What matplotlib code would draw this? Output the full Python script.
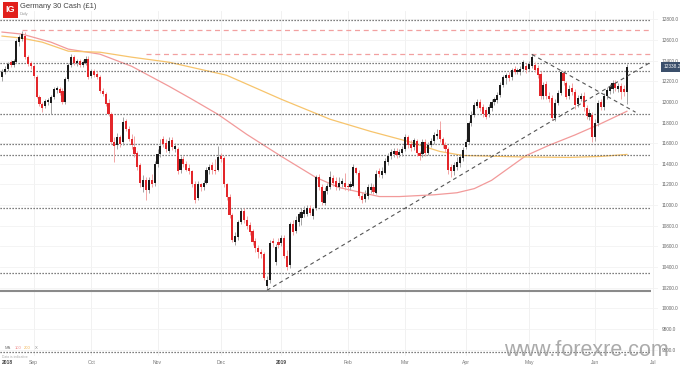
#!/usr/bin/env python3
"""Germany 30 Cash daily candles with 100/200 MAs, levels and trendlines -> out.png"""

import matplotlib
matplotlib.use('Agg')
import matplotlib.pyplot as plt
import numpy as np
import pandas as pd
from matplotlib.patches import Rectangle

plt.rcParams['font.family'] = ['Liberation Sans', 'DejaVu Sans']

START = '2018-08-17'

OPEN = [12239, 12287, 12316, 12384, 12355, 12384, 12578, 12608, 12637, 12433,
        12375, 12345, 12239, 12044, 11976, 11957, 11996, 11986, 12044, 12112,
        12122, 12103, 11996, 12219, 12355, 12433, 12375, 12394, 12355, 12375,
        12413, 12248, 12297, 12268, 12239, 12103, 12074, 11986, 11879, 11608,
        11578, 11656, 11608, 11811, 11734, 11637, 11559, 11501, 11384, 11171,
        11248, 11151, 11248, 11219, 11394, 11491, 11637, 11598, 11520, 11627,
        11540, 11540, 11345, 11442, 11394, 11355, 11326, 11209, 11073, 11200,
        11180, 11219, 11336, 11384, 11345, 11345, 11472, 11452, 11200, 11083,
        10908, 10646, 10695, 10840, 10947, 10860, 10811, 10753, 10656, 10588,
        10549, 10530, 10219, 10278, 10656, 10452, 10646, 10637, 10685, 10510,
        10423, 10821, 10753, 10840, 10879, 10918, 10918, 10976, 10899, 10976,
        11268, 11180, 11025, 11141, 11180, 11258, 11229, 11180, 11200, 11219,
        11190, 11171, 11190, 11355, 11316, 11093, 11064, 11093, 11151, 11180,
        11122, 11326, 11287, 11316, 11413, 11472, 11491, 11520, 11481, 11501,
        11540, 11656, 11588, 11559, 11617, 11501, 11491, 11608, 11501, 11578,
        11617, 11666, 11724, 11637, 11578, 11540, 11365, 11326, 11374, 11404,
        11452, 11559, 11608, 11792, 11870, 11957, 11996, 11947, 11918, 11879,
        11938, 11996, 12015, 12064, 12161, 12229, 12258, 12239, 12316, 12287,
        12287, 12316, 12345, 12316, 12345, 12355, 12326, 12268, 12054, 12171,
        12054, 12035, 11841, 11986, 12083, 12277, 12180, 12054, 12132, 12093,
        11976, 12025, 12054, 11938, 11850, 11870, 11656, 11792, 11996, 11947,
        12054, 12103, 12122, 12180, 12122, 12151, 12122, 12093]
HIGH = [12316, 12345, 12384, 12404, 12413, 12608, 12646, 12685, 12676, 12452,
        12394, 12365, 12258, 12064, 11996, 12025, 12035, 12064, 12142, 12151,
        12142, 12132, 12239, 12375, 12462, 12452, 12413, 12413, 12404, 12443,
        12443, 12316, 12316, 12297, 12258, 12132, 12093, 12025, 11899, 11656,
        11695, 11675, 11850, 11831, 11763, 11685, 11666, 11520, 11404, 11287,
        11268, 11277, 11297, 11423, 11540, 11637, 11666, 11637, 11656, 11656,
        11598, 11559, 11472, 11472, 11423, 11394, 11345, 11229, 11229, 11219,
        11248, 11365, 11394, 11413, 11442, 11569, 11501, 11472, 11219, 11103,
        10928, 10743, 10860, 10976, 10976, 10899, 10840, 10772, 10685, 10617,
        10578, 10549, 10316, 10666, 10685, 10627, 10685, 10714, 10714, 10569,
        10840, 10860, 10899, 10937, 10976, 10996, 11005, 11005, 10986, 11287,
        11297, 11200, 11171, 11219, 11326, 11287, 11268, 11268, 11258, 11316,
        11219, 11229, 11394, 11374, 11345, 11132, 11151, 11200, 11219, 11209,
        11336, 11355, 11365, 11452, 11501, 11540, 11549, 11549, 11540, 11569,
        11685, 11675, 11627, 11646, 11637, 11520, 11637, 11637, 11608, 11646,
        11705, 11734, 11811, 11656, 11608, 11559, 11394, 11413, 11462, 11491,
        11559, 11637, 11811, 11909, 11996, 12025, 12025, 11976, 11947, 11976,
        12025, 12044, 12093, 12190, 12258, 12277, 12287, 12326, 12345, 12326,
        12345, 12404, 12375, 12394, 12462, 12384, 12355, 12297, 12190, 12200,
        12093, 12064, 12025, 12112, 12307, 12297, 12200, 12161, 12180, 12122,
        12064, 12083, 12093, 11967, 11928, 11899, 11831, 12015, 12025, 12083,
        12142, 12171, 12210, 12210, 12180, 12180, 12161, 12365]
LOW = [12200, 12268, 12297, 12336, 12336, 12375, 12540, 12588, 12413, 12345,
       12316, 12229, 12035, 11957, 11899, 11938, 11967, 11879, 12025, 12083,
       12064, 11976, 11976, 12200, 12336, 12355, 12345, 12336, 12336, 12355,
       12219, 12229, 12239, 12219, 12083, 12054, 11957, 11860, 11588, 11413,
       11540, 11559, 11578, 11714, 11617, 11540, 11462, 11345, 11171, 11132,
       11054, 11122, 11180, 11190, 11365, 11462, 11559, 11510, 11501, 11530,
       11510, 11297, 11316, 11365, 11326, 11297, 11171, 11025, 11054, 11141,
       11151, 11200, 11306, 11306, 11297, 11326, 11413, 11171, 11054, 10879,
       10646, 10617, 10666, 10821, 10831, 10772, 10714, 10617, 10549, 10491,
       10491, 10278, 10170, 10248, 10598, 10423, 10588, 10607, 10491, 10374,
       10394, 10714, 10734, 10801, 10811, 10889, 10899, 10908, 10869, 10957,
       11151, 11005, 11005, 11112, 11161, 11190, 11151, 11151, 11171, 11151,
       11141, 11151, 11171, 11297, 11073, 11025, 11035, 11064, 11122, 11103,
       11103, 11268, 11258, 11297, 11384, 11442, 11462, 11452, 11462, 11472,
       11520, 11549, 11520, 11530, 11472, 11433, 11462, 11472, 11481, 11559,
       11588, 11637, 11608, 11549, 11510, 11306, 11268, 11287, 11345, 11374,
       11423, 11540, 11588, 11763, 11850, 11938, 11909, 11850, 11831, 11850,
       11909, 11967, 11986, 12044, 12142, 12171, 12200, 12210, 12268, 12268,
       12258, 12297, 12277, 12297, 12326, 12287, 12229, 12025, 12025, 12025,
       11996, 11821, 11811, 11967, 12064, 12161, 12025, 12025, 12064, 11928,
       11947, 12006, 11909, 11831, 11821, 11608, 11617, 11763, 11918, 11918,
       12025, 12074, 12083, 12103, 12093, 12025, 12054, 11976]
CLOSE = [12287, 12316, 12365, 12355, 12394, 12588, 12627, 12656, 12433, 12365,
         12345, 12248, 12044, 11976, 11938, 12006, 12015, 12044, 12122, 12132,
         12083, 11996, 12219, 12355, 12433, 12375, 12394, 12355, 12384, 12413,
         12239, 12297, 12258, 12239, 12103, 12074, 11976, 11879, 11608, 11569,
         11656, 11588, 11801, 11734, 11637, 11578, 11491, 11374, 11219, 11248,
         11151, 11248, 11209, 11394, 11491, 11569, 11588, 11540, 11617, 11559,
         11569, 11326, 11442, 11394, 11345, 11326, 11200, 11054, 11200, 11171,
         11219, 11345, 11374, 11336, 11326, 11462, 11442, 11200, 11083, 10908,
         10666, 10704, 10840, 10947, 10860, 10801, 10743, 10646, 10588, 10549,
         10530, 10297, 10278, 10637, 10637, 10598, 10617, 10685, 10510, 10403,
         10821, 10743, 10860, 10918, 10937, 10957, 10976, 10928, 10967, 11268,
         11171, 11035, 11141, 11190, 11268, 11219, 11180, 11219, 11229, 11171,
         11171, 11200, 11365, 11316, 11093, 11054, 11112, 11171, 11180, 11132,
         11306, 11297, 11326, 11423, 11472, 11510, 11520, 11481, 11510, 11540,
         11656, 11578, 11549, 11627, 11501, 11472, 11608, 11501, 11578, 11617,
         11675, 11685, 11637, 11578, 11540, 11336, 11326, 11384, 11413, 11462,
         11530, 11608, 11792, 11870, 11967, 11996, 11938, 11879, 11850, 11947,
         11996, 12025, 12064, 12161, 12239, 12258, 12229, 12307, 12287, 12307,
         12316, 12384, 12307, 12365, 12433, 12307, 12258, 12054, 12161, 12054,
         12025, 11841, 11986, 12083, 12287, 12200, 12044, 12122, 12093, 11967,
         12035, 12054, 11947, 11860, 11889, 11656, 11792, 11986, 11947, 12054,
         12112, 12142, 12180, 12132, 12151, 12093, 12093, 12338.2]

# moving averages at a handful of sessions
MA100_IDX = [0, 7, 17, 23, 34, 45, 58, 66, 75, 85, 97, 109, 117, 131, 138,
             150, 158, 164, 170, 176, 182, 190, 199, 208, 217]
MA100 = [12676, 12656, 12578, 12511, 12462, 12345, 12151, 12025, 11879, 11685,
         11472, 11268, 11171, 11083, 11083, 11100, 11120, 11160, 11240, 11360,
         11480, 11580, 11680, 11790, 11909]
MA200_IDX = [0, 7, 14, 23, 34, 45, 58, 78, 97, 114, 128, 141, 152, 160, 180,
             197, 208, 217]
MA200 = [12637, 12617, 12578, 12491, 12481, 12433, 12384, 12258, 12025, 11831,
         11714, 11617, 11520, 11481, 11467, 11462, 11472, 11491]

DOTTED_LEVELS = [12790, 12375, 12297, 11879, 11588, 11481, 10976, 10345, 9575]
DASHED_LEVELS = [12695, 12462]
DASHED_FROM = [7, 50]
BASE_LEVEL = 10170

TREND_UP_IDX = [92, 225]
TREND_UP = [10175, 12380]
TREND_DN_IDX = [184, 220]
TREND_DN = [12460, 11900]

Y_TICKS = list(range(9600, 12801, 200))

UP_BODY, DN_BODY = '#1b1b1b', '#e3262a'
UP_WICK, DN_WICK = '#a3a3a3', '#f2a5a5'
MA100_COLOR, MA200_COLOR = '#f29a9a', '#f7c46c'


def draw_candles(ax, o, h, l, c):
    x = np.arange(len(c))
    up = c >= o
    ax.vlines(x[up], l[up], h[up], color=UP_WICK, lw=0.7, zorder=3)
    ax.vlines(x[~up], l[~up], h[~up], color=DN_WICK, lw=0.7, zorder=3)
    body = np.maximum(np.abs(c - o), 6)
    bottom = np.minimum(o, c)
    ax.bar(x[up], body[up], bottom=bottom[up], width=0.74, color=UP_BODY,
           lw=0, zorder=4)
    ax.bar(x[~up], body[~up], bottom=bottom[~up], width=0.74, color=DN_BODY,
           lw=0, zorder=4)


def main():
    W, H = 680, 367
    fig = plt.figure(figsize=(W / 100, H / 100), dpi=100)
    ax = fig.add_axes([0, 11 / H, 658 / W, 345 / H])

    o, h, l, c = (np.array(a, dtype=float) for a in (OPEN, HIGH, LOW, CLOSE))
    n = len(c)
    x_lo, x_hi = -0.7, 227.8
    line_end = 225.3

    # month ticks from the trading calendar
    dates = pd.bdate_range(START, periods=n + 12)
    tick_idx = [i for i in range(1, len(dates)) if dates[i].month != dates[i - 1].month]
    tick_lab = [str(dates[i].year) if dates[i].month == 1 else dates[i].strftime('%b')
                for i in tick_idx]

    for t in tick_idx:
        ax.axvline(t, color='#efefef', lw=0.6, zorder=0)
    for y in Y_TICKS:
        ax.axhline(y, color='#f3f3f3', lw=0.6, zorder=0)

    ax.plot(MA100_IDX, MA100, color=MA100_COLOR, lw=0.9, zorder=1)
    ax.plot(MA200_IDX, MA200, color=MA200_COLOR, lw=0.9, zorder=1)

    ax.hlines(DOTTED_LEVELS, x_lo, line_end, color='#555555', lw=0.9,
              linestyles=[(0, (1, 1.4))], zorder=2)
    ax.hlines(DASHED_LEVELS, DASHED_FROM, line_end, color='#f2a0a0', lw=0.9,
              linestyles=[(0, (4, 3))], zorder=2)
    ax.hlines(BASE_LEVEL, x_lo, line_end, color='#8a8a8a', lw=1.5, zorder=2)

    draw_candles(ax, o, h, l, c)

    ax.plot(TREND_UP_IDX, TREND_UP, color='#555555', lw=0.8,
            ls=(0, (3.5, 3)), zorder=5)
    ax.plot(TREND_DN_IDX, TREND_DN, color='#555555', lw=0.8,
            ls=(0, (3.5, 3)), zorder=5)

    ax.set_xlim(x_lo, x_hi)
    ax.set_ylim(9539, 12880)
    for s in ax.spines.values():
        s.set_visible(False)

    ax.set_xticks(tick_idx)
    ax.set_xticklabels(tick_lab)
    ax.tick_params(axis='x', length=0, pad=3, labelsize=3.6, labelcolor='#777777')
    for lab in ax.get_xticklabels():
        if lab.get_text().isdigit():
            lab.set_fontweight('bold')
            lab.set_color('#444444')

    ax.yaxis.tick_right()
    ax.set_yticks(Y_TICKS)
    ax.set_yticklabels([f'{v:.1f}' for v in Y_TICKS])
    ax.tick_params(axis='y', length=0, pad=2.5, labelsize=3.4, labelcolor='#666666')

    # last price tag
    ax.annotate(f'{c[-1]:.1f}', xy=(1.0, c[-1]), xycoords=('axes fraction', 'data'),
                xytext=(10, 0), textcoords='offset points', ha='center', va='center',
                fontsize=3.4, color='white', zorder=10, annotation_clip=False,
                bbox=dict(boxstyle='square,pad=0.45', fc='#3b4f6b', ec='none'))

    # header
    fig.patches.append(Rectangle((3 / W, 1 - 18 / H), 15 / W, 16 / H,
                                 transform=fig.transFigure, fc='#e1201b', ec='none'))
    fig.text(10.5 / W, 1 - 10 / H, 'IG', color='white', fontsize=6.5,
             fontweight='bold', ha='center', va='center')
    fig.text(20 / W, 1 - 7 / H, 'Germany 30 Cash (£1)', color='#444444',
             fontsize=5.4, ha='left', va='center')
    fig.text(20 / W, 1 - 14.5 / H, 'Daily', color='#999999', fontsize=2.8,
             ha='left', va='center')

    # footer
    fig.text(2 / W, 1 - 362 / H, '2018', color='#444444', fontsize=3.6,
             fontweight='bold', ha='left', va='center')
    fig.text(5 / W, 1 - 348 / H, 'MA', color='#777777', fontsize=3.0, va='center')
    fig.text(15 / W, 1 - 348 / H, '100', color='#f08a8a', fontsize=3.0, va='center')
    fig.text(24 / W, 1 - 348 / H, '200', color='#f2b24a', fontsize=3.0, va='center')
    fig.text(35 / W, 1 - 348 / H, 'X', color='#888888', fontsize=3.0, va='center')
    fig.text(2 / W, 1 - 357 / H, 'Data is indicative', color='#aaaaaa',
             fontsize=2.4, va='center')
    fig.text(504 / W, 1 - 350 / H, 'www.forexre.com', color='#9c9c9c', alpha=0.85,
             fontsize=15.5, ha='left', va='center', zorder=20)

    fig.savefig('out.png', dpi=100)
    plt.close(fig)


if __name__ == '__main__':
    main()
